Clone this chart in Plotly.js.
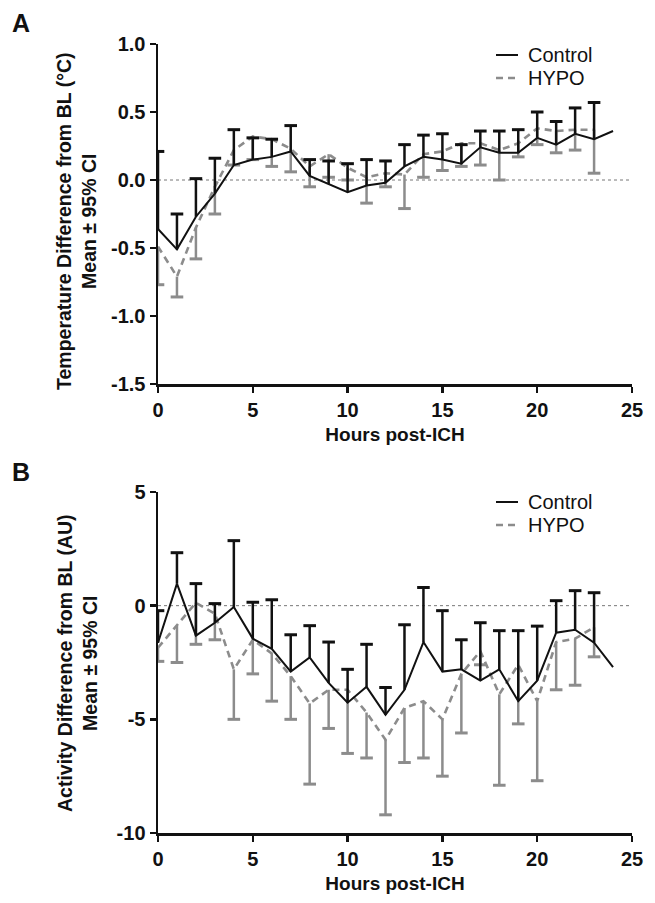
<!DOCTYPE html>
<html>
<head>
<meta charset="utf-8">
<script src="https://cdn.plot.ly/plotly-3.0.1.min.js"></script>
<style>html,body{margin:0;padding:0;background:#fff;}#chart{width:655px;height:903px;}</style>
</head>
<body>
<div id="chart"></div>
<script>
// ---------- data ----------
const hours = [0,1,2,3,4,5,6,7,8,9,10,11,12,13,14,15,16,17,18,19,20,21,22,23,24];
const hoursHypo = [0,1,2,3,4,5,6,7,8,9,10,11,12,13,14,15,16,17,18,19,20,21,22,23];

// Panel A: temperature difference from BL (°C)
const tempCtrlMean  = [-0.36,-0.51,-0.27,-0.10,0.11,0.15,0.17,0.21,0.03,-0.03,-0.09,-0.04,-0.02,0.10,0.17,0.15,0.12,0.24,0.20,0.20,0.31,0.26,0.34,0.30,0.36];
const tempCtrlUpper = [0.21,-0.25,0.01,0.16,0.37,0.31,0.30,0.40,0.15,0.14,0.12,0.15,0.14,0.26,0.33,0.34,0.26,0.36,0.36,0.37,0.50,0.43,0.53,0.57,null];
const tempHypoMean  = [-0.49,-0.71,-0.35,-0.05,0.22,0.32,0.30,0.23,0.10,0.19,0.09,0.02,0.05,0.04,0.19,0.21,0.27,0.27,0.22,0.27,0.38,0.36,0.37,0.37];
const tempHypoLower = [-0.77,-0.86,-0.58,-0.25,0.11,0.15,0.10,0.06,-0.05,0.02,0.00,-0.17,-0.05,-0.21,0.02,0.07,0.10,0.11,0.00,0.17,0.26,0.20,0.22,0.05];

// Panel B: activity difference from BL (AU)
const actCtrlMean  = [-1.63,0.97,-1.32,-0.75,-0.06,-1.45,-1.90,-2.90,-2.28,-3.40,-4.27,-3.57,-4.80,-3.70,-1.60,-2.90,-2.80,-3.30,-2.80,-4.20,-3.30,-1.19,-1.06,-1.63,-2.70];
const actCtrlUpper = [-0.22,2.33,0.97,0.09,2.86,0.15,0.26,-1.28,-0.88,-1.60,-2.80,-1.70,-3.60,-0.84,0.80,-0.22,-1.50,-0.75,-1.10,-1.10,-0.90,0.22,0.66,0.57,null];
const actHypoMean  = [-1.85,-0.88,0.13,-0.35,-2.80,-1.50,-2.10,-3.10,-4.30,-3.70,-3.70,-4.70,-5.90,-4.50,-4.20,-5.00,-3.00,-2.00,-3.90,-2.60,-4.20,-1.60,-1.45,-0.95];
const actHypoLower = [-2.45,-2.50,-1.70,-1.50,-5.00,-3.00,-4.20,-5.00,-7.85,-5.40,-6.50,-6.70,-9.20,-6.90,-6.70,-7.50,-5.60,-2.60,-7.90,-5.20,-7.70,-3.70,-3.50,-2.25];

const xTicks = [0,5,10,15,20,25];
const yTicksA = [-1.5,-1.0,-0.5,0.0,0.5,1.0];
const yTextA  = ["-1.5","-1.0","-0.5","0.0","0.5","1.0"];
const yTicksB = [-10,-5,0,5];
const yTextB  = ["-10","-5","0","5"];

const seriesNames = ["Control","HYPO"];
const panelLetters = ["A","B"];
const yTitles = ["Temperature Difference from BL (°C)<br>Mean ± 95% CI","Activity Difference from BL (AU)<br>Mean ± 95% CI"];
const xTitle = "Hours post-ICH";

// ---------- styles ----------
const BLACK = "#111111";
const GREY = "#8c8c8c";
const FONT = "Liberation Sans, Arial, sans-serif";
const DASH = "7px,5px";

function whisker(xs, means, bounds, color, xa, ya) {
  const x = [], y = [], cx = [], cy = [];
  xs.forEach((h, i) => {
    if (bounds[i] === null || bounds[i] === undefined) return;
    x.push(h, h, null); y.push(means[i], bounds[i], null);
    cx.push(h); cy.push(bounds[i]);
  });
  return [
    {x, y, xaxis: xa, yaxis: ya, mode: "lines", line: {color, width: 2.5}, showlegend: false, hoverinfo: "skip"},
    {x: cx, y: cy, xaxis: xa, yaxis: ya, mode: "markers", marker: {symbol: "line-ew", size: 9, line: {color, width: 3}}, showlegend: false, hoverinfo: "skip"}
  ];
}

const traces = [];
function panel(xa, ya, cMean, cUp, hMean, hLow) {
  traces.push(...whisker(hoursHypo, hMean, hLow, GREY, xa, ya));
  traces.push({x: hoursHypo, y: hMean, xaxis: xa, yaxis: ya, mode: "lines", name: seriesNames[1],
    line: {color: GREY, width: 2.6, dash: DASH}, showlegend: false});
  traces.push(...whisker(hours, cMean, cUp, BLACK, xa, ya));
  traces.push({x: hours, y: cMean, xaxis: xa, yaxis: ya, mode: "lines", name: seriesNames[0],
    line: {color: BLACK, width: 2}, showlegend: false});
}
panel("x", "y", tempCtrlMean, tempCtrlUpper, tempHypoMean, tempHypoLower);
panel("x2", "y2", actCtrlMean, actCtrlUpper, actHypoMean, actHypoLower);

const W = 655, H = 903;
const px = v => v / W, py = v => 1 - v / H;

function xAxis(anchor) {
  return {
    domain: [px(158), px(632)], anchor, range: [0, 25], tickvals: xTicks,
    showline: true, linecolor: BLACK, linewidth: 2.5, ticks: "outside", ticklen: 6, tickwidth: 2.5, tickcolor: BLACK,
    showgrid: false, zeroline: false, tickfont: {family: FONT, size: 20, weight: 700, color: BLACK},
    title: {text: xTitle, font: {family: FONT, size: 19, weight: 700, color: BLACK}, standoff: 8}
  };
}
function yAxis(anchor, dom, range, tv, tt) {
  return {
    domain: dom, anchor, range, tickvals: tv, ticktext: tt,
    showline: true, linecolor: BLACK, linewidth: 2.5, ticks: "outside", ticklen: 6, tickwidth: 2.5, tickcolor: BLACK,
    showgrid: false, zeroline: false, tickfont: {family: FONT, size: 20, weight: 700, color: BLACK}
  };
}

// legend drawn as line samples + text (short samples as in the reference)
function legendItems(topY) {
  const rows = [
    {name: seriesNames[0], color: BLACK, dash: "solid", width: 2, y: topY},
    {name: seriesNames[1], color: GREY, dash: DASH, width: 2.6, y: topY + 23}
  ];
  const shapes = [], anns = [];
  rows.forEach(r => {
    shapes.push({type: "line", xref: "paper", yref: "paper", x0: px(496), x1: px(518), y0: py(r.y), y1: py(r.y),
      line: {color: r.color, width: r.width, dash: r.dash}});
    anns.push({text: r.name, xref: "paper", yref: "paper", x: px(527), y: py(r.y), xanchor: "left", yanchor: "middle",
      showarrow: false, borderpad: 0, font: {family: FONT, size: 20, color: BLACK}});
  });
  return {shapes, anns};
}
const legA = legendItems(55), legB = legendItems(502);

const layout = {
  width: W, height: H, margin: {l: 0, r: 0, t: 0, b: 0},
  paper_bgcolor: "#fff", plot_bgcolor: "#fff",
  font: {family: FONT, color: BLACK},
  showlegend: false,
  xaxis: xAxis("y"),
  yaxis: yAxis("x", [py(384), py(44)], [-1.5, 1.0], yTicksA, yTextA),
  xaxis2: xAxis("y2"),
  yaxis2: yAxis("x2", [py(833), py(492)], [-10, 5], yTicksB, yTextB),
  shapes: [
    {type: "line", xref: "x", yref: "y", x0: 0, x1: 25, y0: 0, y1: 0, line: {color: "#777", width: 1, dash: "dot"}, layer: "below"},
    {type: "line", xref: "x2", yref: "y2", x0: 0, x1: 25, y0: 0, y1: 0, line: {color: "#777", width: 1, dash: "dot"}, layer: "below"}
  ].concat(legA.shapes, legB.shapes),
  annotations: [
    {text: panelLetters[0], xref: "paper", yref: "paper", x: px(10), y: py(7), xanchor: "left", yanchor: "top", showarrow: false, font: {family: FONT, size: 25, weight: 700, color: BLACK}},
    {text: panelLetters[1], xref: "paper", yref: "paper", x: px(10), y: py(456), xanchor: "left", yanchor: "top", showarrow: false, font: {family: FONT, size: 25, weight: 700, color: BLACK}},
    {text: yTitles[0], xref: "paper", yref: "paper", x: px(77), y: py(221), xanchor: "center", yanchor: "middle", textangle: -90, showarrow: false, font: {family: FONT, size: 19.5, weight: 700, color: BLACK}},
    {text: yTitles[1], xref: "paper", yref: "paper", x: px(77), y: py(663), xanchor: "center", yanchor: "middle", textangle: -90, showarrow: false, font: {family: FONT, size: 19.5, weight: 700, color: BLACK}}
  ].concat(legA.anns, legB.anns)
};

Plotly.newPlot("chart", traces, layout, {staticPlot: true, displayModeBar: false});
</script>
</body>
</html>
